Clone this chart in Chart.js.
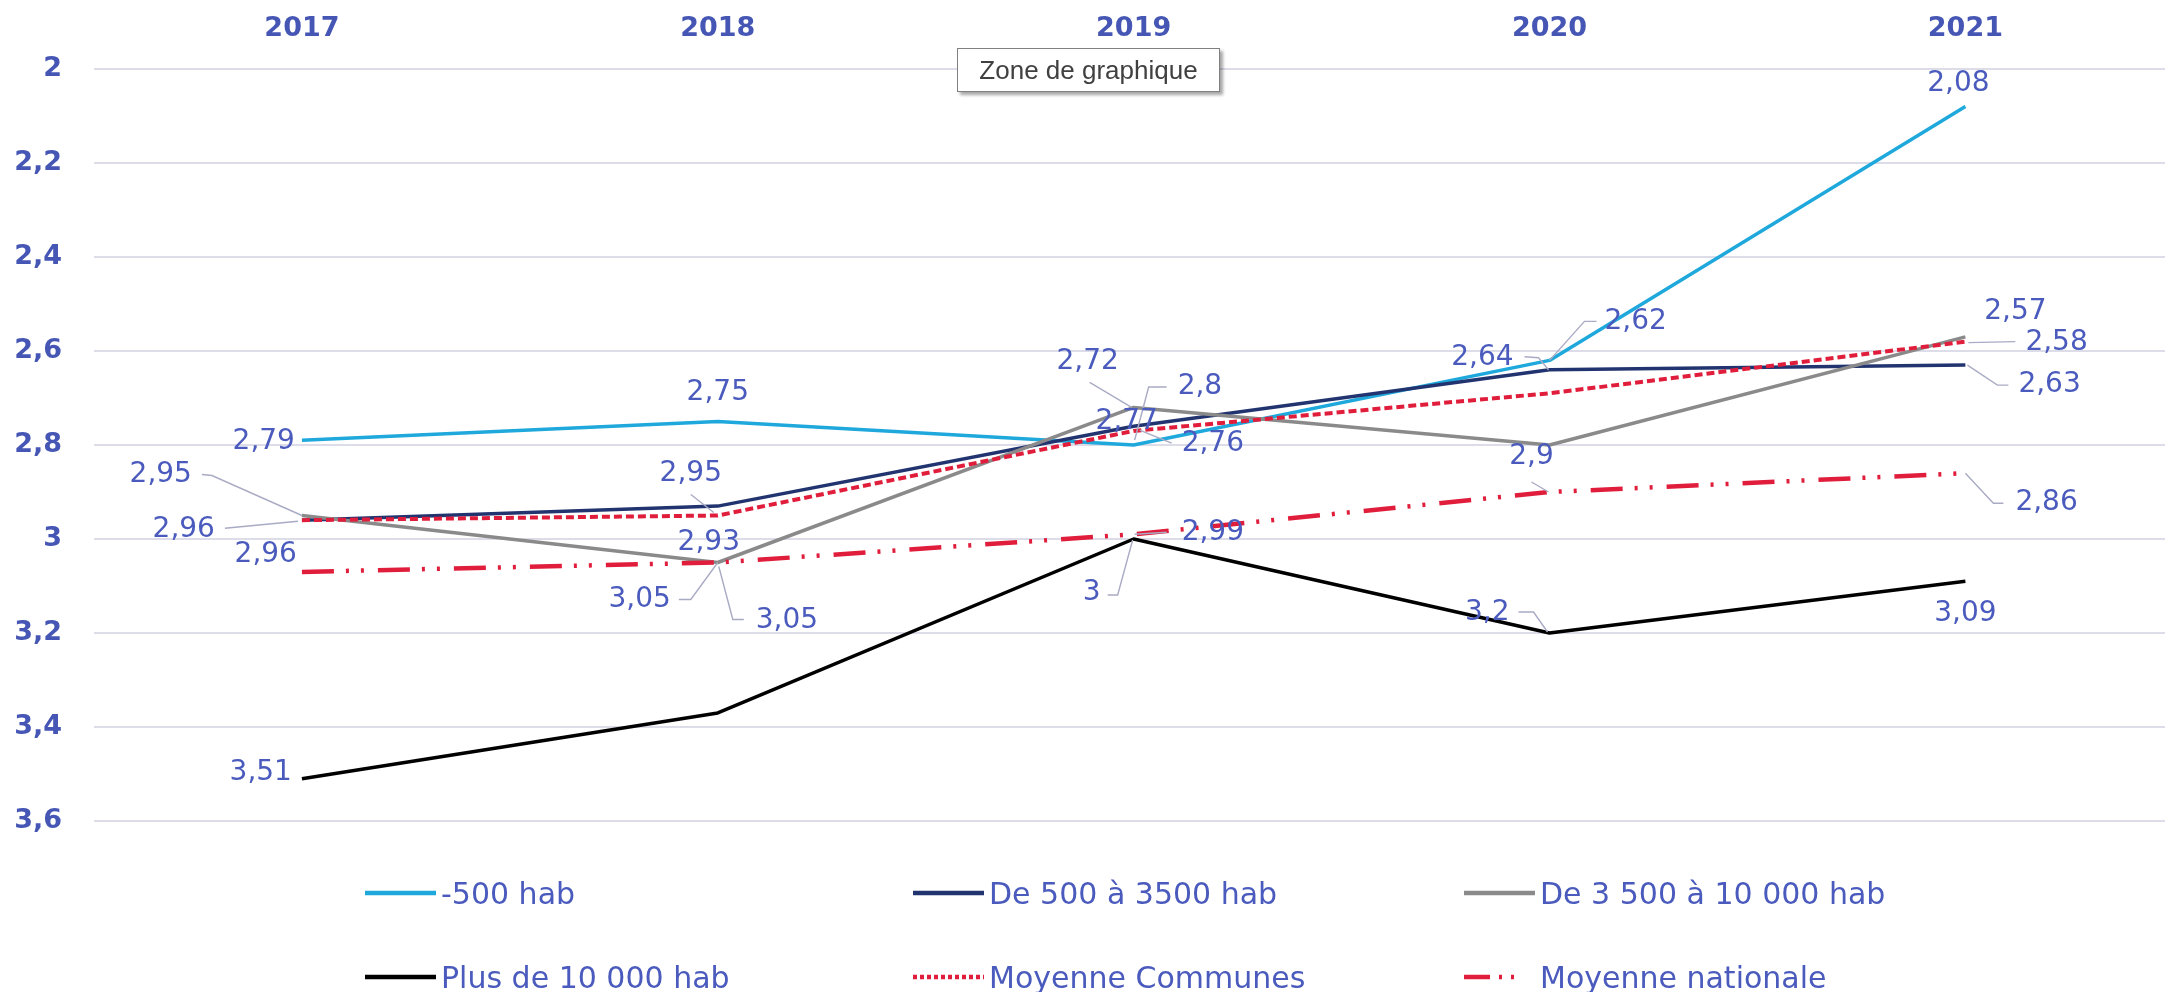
<!DOCTYPE html>
<html lang="fr">
<head>
<meta charset="utf-8">
<title>Évolution</title>
<script src="https://cdn.jsdelivr.net/npm/chart.js@4.4.1/dist/chart.umd.min.js"></script>
<style>
  html, body { margin: 0; padding: 0; background: #ffffff; overflow: hidden; }
  #wrap { position: relative; width: 2165px; height: 992px; }
  #c { position: absolute; left: 0; top: 0; }
  .lg { position: absolute; display: flex; align-items: center; font-family: 'DejaVu Sans', sans-serif; font-size: 30px; color: #4a5bbd; white-space: nowrap; }
  .lg svg { margin-right: 5px; }
  #zone { position: absolute; left: 957px; top: 48px; width: 263px; height: 44px; background: #fff; border: 1.5px solid #808080;
          box-shadow: 3px 3px 3px rgba(0,0,0,0.35); font-family: 'Liberation Sans', sans-serif; font-size: 26px; color: #404040;
          display: flex; align-items: center; justify-content: center; box-sizing: border-box; }
</style>
</head>
<body>
<div id="wrap">
  <canvas id="c" width="2165" height="992"></canvas>
  <div id="zone">Zone de graphique</div>
</div>
<script>
// ---- data ----
const categories = ['2017', '2018', '2019', '2020', '2021'];
const seriesNames = ['-500 hab', 'De 500 à 3500 hab', 'De 3 500 à 10 000 hab', 'Plus de 10 000 hab', 'Moyenne Communes', 'Moyenne nationale'];
const moins500 = [2.79, 2.75, 2.80, 2.62, 2.08];
const de500a3500 = [2.96, 2.93, 2.76, 2.64, 2.63];
const de3500a10000 = [2.95, 3.05, 2.72, 2.80, 2.57];
const plus10000 = [3.51, 3.37, 3.00, 3.20, 3.09];
const moyenneCommunes = [2.96, 2.95, 2.77, 2.69, 2.58];
const moyenneNationale = [3.07, 3.05, 2.99, 2.90, 2.86];
const yTicks = [2, 2.2, 2.4, 2.6, 2.8, 3, 3.2, 3.4, 3.6];

// ---- styles ----
const labelColor = '#4a5bbd';
const axisColor = '#4656b4';
const leaderColor = '#a9abc4';
const styles = [
  { color: '#1fa8dc', width: 3.5, dash: [] },
  { color: '#22346f', width: 3.5, dash: [] },
  { color: '#8a8a8a', width: 3.5, dash: [] },
  { color: '#000000', width: 3.5, dash: [] },
  { color: '#e01e3c', width: 4, dash: [8, 4] },
  { color: '#e01e3c', width: 4.5, dash: [32, 12, 3, 12, 3, 14] }
];
const legendDash = ['', '', '', '', '4 3', '26 9 3 9 3 40'];

// label placement (offsets from the point, in px) – style only
const P = (dx, dy, align, leader) => ({ dx, dy, align, leader });
const labelPlacement = [
  [P(-7, 1, 'right'), P(0, -29, 'center'), P(44, -58, 'left', [[1,-5],[15,-58],[33,-58]]), P(55, -39, 'left', [[0,0],[35,-39],[47,-39]]), P(-7, -23, 'center')],
  [P(-87, 10, 'right', [[-4,1],[-77,8]]), P(-9, 37, 'center'), P(48, 18, 'left', [[6,4],[38,17]]), P(-36, -12, 'right', [[-1,0],[-11,-12],[-25,-13]]), P(53, 20, 'left', [[2,0],[32,20],[43,20]])],
  [P(-110, -41, 'right', [[0,0],[-90,-40],[-100,-41]]), P(-47, 37, 'right', [[0,0],[-27,37],[-39,37]]), P(-46, -46, 'center', [[-2,0],[-44,-25]]), null, P(50, -25, 'center')],
  [P(-10, -6, 'right'), null, P(-33, 54, 'right', [[-1,1],[-16,56],[-26,56]]), P(-40, -20, 'right', [[-2,-1],[-16,-21],[-31,-21]]), P(0, 32, 'center')],
  [P(-5, 35, 'right'), P(-27, -42, 'center', [[-4,-3],[-27,-21]]), P(-7, -9, 'center'), null, P(60, 1, 'left', [[3,1],[50,0]])],
  [null, P(38, 58, 'left', [[1,4],[15,57],[26,57]]), P(48, -2, 'left', [[1,0],[33,-2]]), P(-18, -35, 'center', [[-1,0],[-18,-10]]), P(50, 30, 'left', [[0,0],[28,30],[38,30]])]
];

const fmt = v => String(Math.round(v * 100) / 100).replace('.', ',');

const seriesValues = [moins500, de500a3500, de3500a10000, plus10000, moyenneCommunes, moyenneNationale];

const datasets = seriesValues.map((vals, i) => ({
  label: seriesNames[i],
  data: vals.map((v, j) => ({ x: j, y: v })),
  borderColor: styles[i].color,
  backgroundColor: styles[i].color,
  borderWidth: styles[i].width,
  borderDash: styles[i].dash,
  borderCapStyle: 'butt',
  borderJoinStyle: 'round',
  pointRadius: 0,
  pointHoverRadius: 0,
  tension: 0,
  fill: false,
  order: seriesValues.length - i
}));

const valueLabels = {
  id: 'valueLabels',
  afterDatasetsDraw(chart) {
    const ctx = chart.ctx;
    chart.data.datasets.forEach((ds, i) => {
      const meta = chart.getDatasetMeta(i);
      const places = labelPlacement[i];
      meta.data.forEach((pt, j) => {
        const p = places[j];
        if (!p) return;
        const x = pt.x, y = pt.y;
        if (p.leader) {
          ctx.save();
          ctx.strokeStyle = leaderColor;
          ctx.lineWidth = 1.4;
          ctx.beginPath();
          p.leader.forEach(([lx, ly], k) => { if (k) ctx.lineTo(x + lx, y + ly); else ctx.moveTo(x + lx, y + ly); });
          ctx.stroke();
          ctx.restore();
        }
        ctx.save();
        ctx.font = '28px "DejaVu Sans"';
        ctx.fillStyle = labelColor;
        ctx.textAlign = p.align;
        ctx.textBaseline = 'middle';
        ctx.fillText(fmt(ds.data[j].y), x + p.dx, y + p.dy);
        ctx.restore();
      });
    });
  }
};

const chart = new Chart(document.getElementById('c'), {
  type: 'line',
  data: { datasets },
  options: {
    responsive: false,
    animation: false,
    devicePixelRatio: 1,
    layout: { padding: { top: 0, left: 0, right: 0, bottom: 171 } },
    plugins: { legend: { display: false }, tooltip: { enabled: false } },
    scales: {
      x: {
        type: 'linear',
        position: 'top',
        min: -0.5,
        max: 4.48,
        grid: { display: false, drawTicks: false },
        border: { display: false },
        afterBuildTicks: s => { s.ticks = categories.map((c, i) => ({ value: i })); },
        afterFit: s => { s.height = 69; },
        ticks: {
          autoSkip: false, maxRotation: 0, padding: 24,
          color: axisColor,
          font: { family: 'DejaVu Sans', weight: 'bold', size: 27 },
          callback: v => categories[v] ?? ''
        }
      },
      y: {
        reverse: true,
        min: 2,
        max: 3.6,
        afterBuildTicks: s => { s.ticks = yTicks.map(v => ({ value: v })); },
        afterFit: s => { s.width = 94; },
        grid: { color: '#dcdde9', lineWidth: 2, drawTicks: false },
        border: { display: false },
        ticks: {
          padding: 32,
          color: axisColor,
          font: { family: 'DejaVu Sans', weight: 'bold', size: 27 },
          callback: v => fmt(v)
        }
      }
    }
  },
  plugins: [valueLabels]
});

// ---- HTML legend built from the datasets ----
const legendLeft = [365, 913, 1464];
const legendTop = [893, 977];
const wrap = document.getElementById('wrap');
chart.data.datasets.forEach((ds, i) => {
  const d = document.createElement('div');
  d.className = 'lg';
  d.style.left = legendLeft[i % 3] + 'px';
  d.style.top = (legendTop[Math.floor(i / 3)] - 18) + 'px';
  d.style.height = '36px';
  const dash = legendDash[i] ? ` stroke-dasharray="${legendDash[i]}"` : '';
  d.innerHTML = `<svg width="71" height="10"><line x1="0" y1="5" x2="71" y2="5" stroke="${ds.borderColor}" stroke-width="4.5"${dash}/></svg><span>${ds.label}</span>`;
  wrap.appendChild(d);
});
</script>
</body>
</html>
